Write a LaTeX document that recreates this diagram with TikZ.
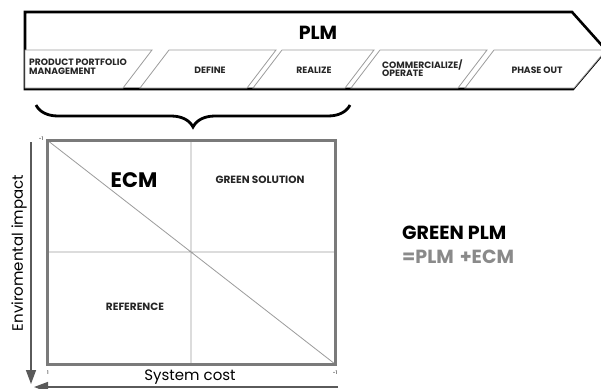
\documentclass[tikz,border=0pt]{standalone}
\usepackage{fontspec}
\setmainfont{Poppins}
\usetikzlibrary{arrows.meta,decorations.pathreplacing}
\definecolor{framegray}{HTML}{7A7A7A}
\definecolor{linegray}{HTML}{9C9C9C}
\definecolor{axisgray}{HTML}{5A5A5A}
\definecolor{sumgray}{HTML}{8A8A8A}
\tikzset{
  phase/.style={draw=linegray, line width=0.8pt, fill=white},
  phasetext/.style={font=\fontsize{9.2}{8.6}\selectfont\bfseries, text=black!85, align=center, inner sep=0pt},
  quadtext/.style={font=\fontsize{10.5}{10.5}\selectfont\bfseries, text=black!85, inner sep=0pt},
  axis/.style={draw=axisgray, line width=1.4pt, -{Triangle[length=14pt,width=10pt]}},
  tick/.style={font=\fontsize{5}{5}\selectfont, inner sep=0pt}
}
\begin{document}
\begin{tikzpicture}[x=1pt,y=-1pt]
\useasboundingbox (0,0) rectangle (601,388);
% PLM arrow
\draw[line width=2.6pt, line join=miter] (25,12) -- (572,12) -- (606,50) -- (573,89) -- (25,89) -- cycle;
\draw[phase] (25,50) -- (152,50) -- (123,88) -- (25,88) -- cycle;
\foreach \a/\b in {140/247, 253/345, 351/458}
{   \draw[phase] (\a,88) -- (\a+29,50) -- (\b+29,50) -- (\b,88) -- cycle;
}
\draw[phase] (465,88) -- (494,50) -- (606,50) -- (574,88) -- cycle;
\node[font=\fontsize{19}{19}\selectfont\bfseries] (plm) at (318,33) {PLM};
\node[phasetext, align=left, anchor=west] (ppm) at (29,67) {PRODUCT PORTFOLIO\\MANAGEMENT};
\node[phasetext] (define) at (210,70) {DEFINE};
\node[phasetext] (realize) at (314,70) {REALIZE};
\node[phasetext, align=left, anchor=west] (comm) at (382,68) {COMMERCIALIZE/\\OPERATE};
\node[phasetext] (phaseout) at (537,70) {PHASE OUT};
% brace over the first three phases
\draw[line width=2.8pt, decorate, decoration={brace, mirror, amplitude=22pt}] (36,105) -- (350,105);
% green matrix
\draw[line width=0.8pt, linegray] (191,140) -- (191,364) (47,252) -- (335,252) (47,140) -- (335,364);
\draw[line width=3pt, framegray] (47,140) rectangle (335,364);
\node[tick] (tl) at (41,139) {-1};
\node[tick] (bl) at (48,373) {1};
\node[tick] (br) at (335,373) {-1};
\node[font=\fontsize{21}{21}\selectfont\bfseries] (ecm) at (134,180) {ECM};
\node[quadtext] (green) at (260,180) {GREEN SOLUTION};
\node[quadtext] (ref) at (135,307) {REFERENCE};
% axes
\coordinate (ytop) at (31,142);
\coordinate (ybot) at (31,384);
\coordinate (xright) at (338,387);
\coordinate (xleft) at (34,387);
\draw[axis] (ytop) -- (ybot);
\draw[axis] (xright) -- (xleft);
\node[font=\fontsize{15}{15}\selectfont, rotate=90, inner sep=0pt] (env) at (19,253) {Enviromental impact};
\node[font=\fontsize{15}{15}\selectfont, inner sep=0pt] (cost) at (190,377) {System cost};
% result
\node[font=\fontsize{19}{19}\selectfont\bfseries, anchor=west, inner sep=0pt] (gplm) at (402,233) {GREEN PLM};
\node[font=\fontsize{19}{19}\selectfont\bfseries, anchor=west, inner sep=0pt, text=sumgray] (sum) at (402,257) {=PLM\hspace{2pt} +ECM};
\end{tikzpicture}
\end{document}
